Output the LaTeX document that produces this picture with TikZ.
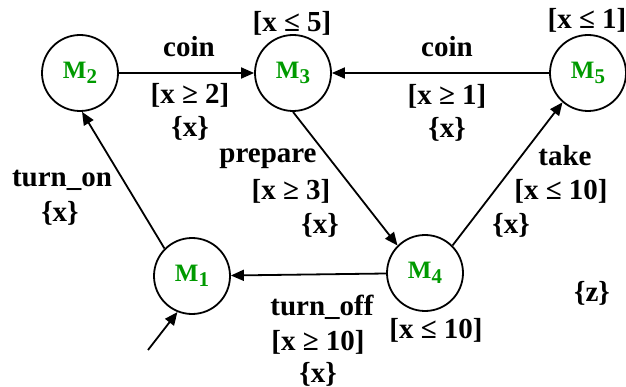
\documentclass[tikz,border=0pt]{standalone}
\usepackage{fontspec}
\setmainfont{Liberation Serif}
\usepackage{tikz}
\usetikzlibrary{arrows.meta}
\definecolor{mgreen}{HTML}{009A00}

\newcommand{\mloc}[1]{M\raisebox{-4.5pt}{\fontsize{21}{21}\selectfont #1}}

\begin{document}
\begin{tikzpicture}[x=1pt,y=-1pt,
    loc/.style={circle, draw, line width=1.8pt, minimum size=76pt, inner sep=0pt,
                text=mgreen, font=\fontsize{25}{27}\selectfont\bfseries},
    lbl/.style={anchor=base, inner sep=0pt, font=\fontsize{29}{31}\selectfont\bfseries},
    edge/.style={line width=1.8pt, -{Triangle[length=13pt,width=11pt]}}]

  \useasboundingbox (0,0) rectangle (626,387);

  % ----- locations -----
  \node[loc] (m1) at (192,276) {\mloc{1}};
  \node[loc] (m2) at (80,73)   {\mloc{2}};
  \node[loc] (m3) at (293,73)  {\mloc{3}};
  \node[loc] (m4) at (425,273) {\mloc{4}};
  \node[loc] (m5) at (588,73)  {\mloc{5}};

  % ----- invariants -----
  \node[lbl] (inv3) at (292,32)  {[x ≤ 5]};
  \node[lbl] (inv5) at (587,29)  {[x ≤ 1]};
  \node[lbl] (inv4) at (436,338) {[x ≤ 10]};
  \node[lbl] (clk)  at (592,301) {\{z\}};

  % ----- transitions -----
  \coordinate (init) at (148,350);
  \draw[edge] (init) -- (m1.248);
  \draw[edge] (m1.135) -- (m2.-87);
  \draw[edge] (m2) -- (m3);
  \draw[edge] (m5) -- (m3);
  \draw[edge] (m3.-90) -- (m4.135);
  \draw[edge] (m4.45) -- (m5.229);
  \draw[edge] (m4) -- (m1);

  % ----- transition labels -----
  \node[lbl] (a12) at (62,187)  {turn\_on};
  \node[lbl] (r12) at (60,222)  {\{x\}};

  \node[lbl] (a23) at (189,57)  {coin};
  \node[lbl] (g23) at (190,104) {[x ≥ 2]};
  \node[lbl] (r23) at (190,137) {\{x\}};

  \node[lbl] (a53) at (447,57)  {coin};
  \node[lbl] (g53) at (447,105) {[x ≥ 1]};
  \node[lbl] (r53) at (447,138) {\{x\}};

  \node[lbl] (a34) at (268,163) {prepare};
  \node[lbl] (g34) at (291,200) {[x ≥ 3]};
  \node[lbl] (r34) at (320,234) {\{x\}};

  \node[lbl] (a45) at (565,166) {take};
  \node[lbl] (g45) at (561,200) {[x ≤ 10]};
  \node[lbl] (r45) at (511,234) {\{x\}};

  \node[lbl] (a41) at (322,315) {turn\_off};
  \node[lbl] (g41) at (318,350) {[x ≥ 10]};
  \node[lbl] (r41) at (318,382) {\{x\}};

\end{tikzpicture}
\end{document}
